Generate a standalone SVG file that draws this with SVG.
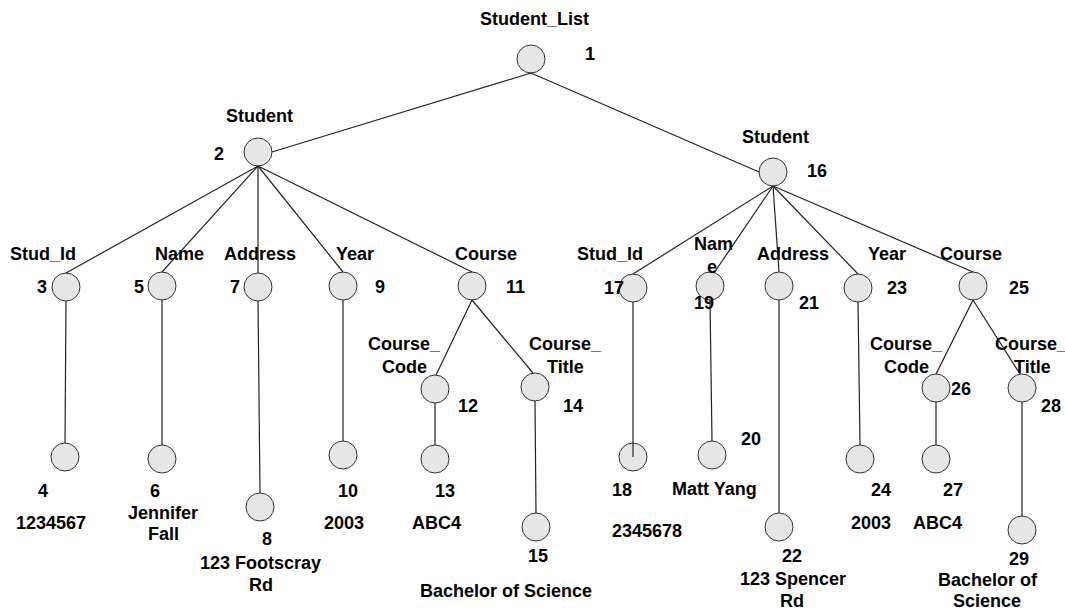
<svg xmlns="http://www.w3.org/2000/svg" width="1065" height="611" viewBox="0 0 1065 611">
  <style>
    .bg { fill: #ffffff; }
    .node circle { fill: #e6e6e6; stroke: #333333; stroke-width: 1; }
    .edges line { stroke: #222222; stroke-width: 1.2; }
    text { font-family: "Liberation Sans", Arial, sans-serif; font-weight: bold; font-size: 18px; fill: #000000; }
  </style>
  <rect class="bg" x="0" y="0" width="1065" height="611"/>

  <!-- nodes -->
  <g id="n1" class="node"><circle cx="531" cy="59" r="14"/><text x="480" y="25">Student_List</text><text x="585" y="60">1</text></g>
  <g id="n2" class="node"><circle cx="258" cy="152" r="14"/><text x="226" y="122">Student</text><text x="214" y="160">2</text></g>
  <g id="n3" class="node"><circle cx="66" cy="287" r="14"/><text x="10" y="260">Stud_Id</text><text x="37" y="293">3</text></g>
  <g id="n4" class="node"><circle cx="65" cy="457" r="14"/><text x="38" y="497">4</text><text x="16" y="529">1234567</text></g>
  <g id="n5" class="node"><circle cx="162" cy="286" r="14"/><text x="155" y="260">Name</text><text x="134" y="293">5</text></g>
  <g id="n6" class="node"><circle cx="162" cy="459" r="14"/><text x="150" y="497">6</text><text x="128" y="519">Jennifer</text><text x="148" y="540">Fall</text></g>
  <g id="n7" class="node"><circle cx="258" cy="287" r="14"/><text x="224" y="260">Address</text><text x="230" y="293">7</text></g>
  <g id="n8" class="node"><circle cx="260" cy="507" r="14"/><text x="262" y="545">8</text><text x="200" y="569">123 Footscray</text><text x="249" y="591">Rd</text></g>
  <g id="n9" class="node"><circle cx="343" cy="286" r="14"/><text x="336" y="260">Year</text><text x="375" y="293">9</text></g>
  <g id="n10" class="node"><circle cx="343" cy="455" r="14"/><text x="338" y="497">10</text><text x="324" y="529">2003</text></g>
  <g id="n11" class="node"><circle cx="472" cy="286" r="14"/><text x="455" y="260">Course</text><text x="506" y="293">11</text></g>
  <g id="n12" class="node"><circle cx="435" cy="389" r="14"/><text x="368" y="350">Course_</text><text x="382" y="373">Code</text><text x="458" y="412">12</text></g>
  <g id="n13" class="node"><circle cx="435" cy="459" r="14"/><text x="435" y="497">13</text><text x="412" y="529">ABC4</text></g>
  <g id="n14" class="node"><circle cx="535" cy="387" r="14"/><text x="529" y="350">Course_</text><text x="547" y="373">Title</text><text x="563" y="412">14</text></g>
  <g id="n15" class="node"><circle cx="536" cy="527" r="14"/><text x="528" y="562">15</text><text x="420" y="597">Bachelor of Science</text></g>

  <g id="n16" class="node"><circle cx="773" cy="172" r="14"/><text x="742" y="143">Student</text><text x="807" y="177">16</text></g>
  <g id="n17" class="node"><circle cx="633" cy="288" r="14"/><text x="577" y="260">Stud_Id</text><text x="604" y="294">17</text></g>
  <g id="n18" class="node"><circle cx="633" cy="457" r="14"/><text x="612" y="496">18</text><text x="612" y="537">2345678</text></g>
  <g id="n19" class="node"><circle cx="710" cy="286" r="14"/><text x="694" y="250">Nam</text><text x="707" y="273">e</text><text x="694" y="309">19</text></g>
  <g id="n20" class="node"><circle cx="712" cy="455" r="14"/><text x="741" y="445">20</text><text x="672" y="495">Matt Yang</text></g>
  <g id="n21" class="node"><circle cx="779" cy="286" r="14"/><text x="757" y="260">Address</text><text x="799" y="309">21</text></g>
  <g id="n22" class="node"><circle cx="779" cy="527" r="14"/><text x="782" y="562">22</text><text x="740" y="585">123 Spencer</text><text x="780" y="607">Rd</text></g>
  <g id="n23" class="node"><circle cx="858" cy="288" r="14"/><text x="868" y="260">Year</text><text x="887" y="294">23</text></g>
  <g id="n24" class="node"><circle cx="860" cy="459" r="14"/><text x="871" y="496">24</text><text x="851" y="529">2003</text></g>
  <g id="n25" class="node"><circle cx="973" cy="286" r="14"/><text x="940" y="260">Course</text><text x="1009" y="294">25</text></g>
  <g id="n26" class="node"><circle cx="936" cy="388" r="14"/><text x="870" y="350">Course_</text><text x="884" y="373">Code</text><text x="951" y="395">26</text></g>
  <g id="n27" class="node"><circle cx="936" cy="459" r="14"/><text x="943" y="496">27</text><text x="913" y="529">ABC4</text></g>
  <g id="n28" class="node"><circle cx="1022" cy="388" r="14"/><text x="995" y="350">Course_</text><text x="1014" y="373">Title</text><text x="1041" y="412">28</text></g>
  <g id="n29" class="node"><circle cx="1022" cy="530" r="14"/><text x="1009" y="565">29</text><text x="938" y="586">Bachelor of</text><text x="953" y="607">Science</text></g>

  <!-- connectors -->
  <g id="edges" class="edges">
    <line x1="531" y1="73" x2="272" y2="152"/>
    <line x1="531" y1="73" x2="759" y2="172"/>
    <line x1="258" y1="166" x2="66" y2="273"/>
    <line x1="258" y1="166" x2="162" y2="272"/>
    <line x1="258" y1="166" x2="258" y2="273"/>
    <line x1="258" y1="166" x2="343" y2="272"/>
    <line x1="258" y1="166" x2="472" y2="272"/>
    <line x1="66" y1="301" x2="65" y2="443"/>
    <line x1="162" y1="300" x2="162" y2="445"/>
    <line x1="258" y1="301" x2="260" y2="493"/>
    <line x1="343" y1="300" x2="343" y2="441"/>
    <line x1="472" y1="300" x2="436" y2="375"/>
    <line x1="472" y1="300" x2="533" y2="373"/>
    <line x1="435" y1="403" x2="435" y2="445"/>
    <line x1="535" y1="401" x2="536" y2="513"/>
    <line x1="773" y1="186" x2="633" y2="274"/>
    <line x1="773" y1="186" x2="714" y2="273"/>
    <line x1="773" y1="186" x2="779" y2="272"/>
    <line x1="773" y1="186" x2="858" y2="274"/>
    <line x1="773" y1="186" x2="973" y2="272"/>
    <line x1="633" y1="302" x2="633" y2="457"/>
    <line x1="710" y1="300" x2="712" y2="441"/>
    <line x1="779" y1="300" x2="779" y2="513"/>
    <line x1="858" y1="302" x2="860" y2="445"/>
    <line x1="973" y1="300" x2="936" y2="374"/>
    <line x1="973" y1="300" x2="1020" y2="374"/>
    <line x1="936" y1="402" x2="936" y2="445"/>
    <line x1="1022" y1="402" x2="1022" y2="516"/>
  </g>
</svg>
